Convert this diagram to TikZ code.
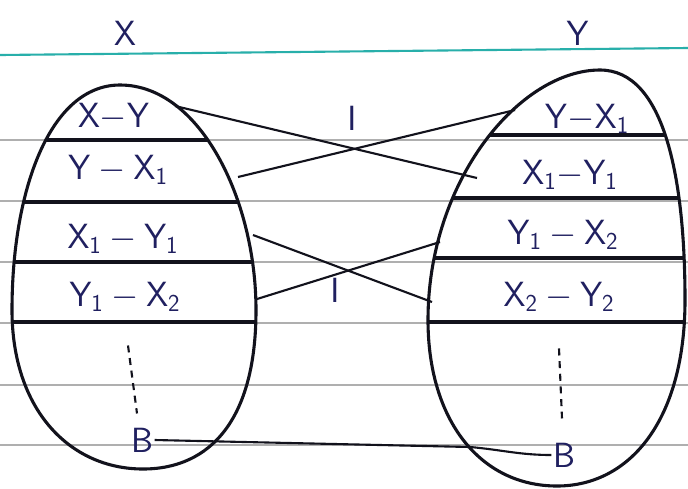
\documentclass[tikz,border=0pt]{standalone}
\definecolor{ink}{RGB}{32,32,96}
\definecolor{pen}{RGB}{18,18,28}
\definecolor{margin}{RGB}{40,175,170}
\definecolor{ruling}{RGB}{175,175,175}
\tikzset{term/.style={text=ink,inner sep=1pt,font=\fontsize{26}{30}\selectfont},text centered}
\tikzset{wire/.style={draw=pen,line width=1.5pt}}
\tikzset{egg/.style={draw=pen,line width=2.2pt}}

\begin{document}
\begin{tikzpicture}[x=0.025cm,y=-0.025cm]
  \useasboundingbox[fill=white] (0,0) rectangle (688,488);
  % ruled paper
  \foreach \y in {140,201,262,323,385,445} \draw[ruling,line width=0.9pt] (0,\y) -- (688,\y);
  \draw[margin,line width=1.5pt] (0,55) -- (688,48);
  \node [term,font=\fontsize{30}{34}\selectfont] (setX) at (125,33) {$\mathsf{X}$};
  \node [term,font=\fontsize{30}{34}\selectfont] (setY) at (578,33) {$\mathsf{Y}$};
  % dividers inside the sets
  \begin{scope}
    \clip (120,85) .. controls (200,85) and (256,200) .. (256,310) .. controls (256,420) and (210,469) .. (143,469) .. controls (70,469) and (12,410) .. (12,310) .. controls (12,190) and (50,85) .. (120,85) -- cycle;
    \foreach \y in {140,202,262,322} \draw[egg] (0,\y) -- (300,\y);
  \end{scope}
  \begin{scope}
    \clip (600,70) .. controls (665,70) and (685,180) .. (685,300) .. controls (685,420) and (630,486) .. (557,486) .. controls (480,486) and (428,420) .. (428,320) .. controls (428,180) and (520,70) .. (600,70) -- cycle;
    \foreach \y in {135,198,258,322} \draw[egg] (380,\y) -- (688,\y);
  \end{scope}
  \draw[egg] (120,85) .. controls (200,85) and (256,200) .. (256,310) .. controls (256,420) and (210,469) .. (143,469) .. controls (70,469) and (12,410) .. (12,310) .. controls (12,190) and (50,85) .. (120,85) -- cycle;
  \draw[egg] (600,70) .. controls (665,70) and (685,180) .. (685,300) .. controls (685,420) and (630,486) .. (557,486) .. controls (480,486) and (428,420) .. (428,320) .. controls (428,180) and (520,70) .. (600,70) -- cycle;
  % left set
  \node [term] (lXY) at (114,117) {$\mathsf{X{-}Y}$};
  \node [term] (lYX1) at (118,170) {$\mathsf{Y-X_1}$};
  \node [term] (lX1Y1) at (123,239) {$\mathsf{X_1-Y_1}$};
  \node [term] (lY1X2) at (125,297) {$\mathsf{Y_1-X_2}$};
  \node [term] (lB) at (142,440) {$\mathsf{B}$};
  % right set
  \node [term] (rYX1) at (587,119) {$\mathsf{Y{-}X_1}$};
  \node [term] (rX1Y1) at (570,175) {$\mathsf{X_1{-}Y_1}$};
  \node [term] (rY1X2) at (563,235) {$\mathsf{Y_1-X_2}$};
  \node [term] (rX2Y2) at (559,297) {$\mathsf{X_2-Y_2}$};
  \node [term] (rB) at (564,455) {$\mathsf{B}$};
  \draw[wire,dashed,dash pattern=on 5pt off 4pt] (lY1X2.south) ++(3,32) coordinate (ldots) -- ++(9,68);
  \draw[wire,dashed,dash pattern=on 5pt off 4pt] (rX2Y2.south) ++(0,35) coordinate (rdots) -- ++(3,70);
  % ends of the maps
  \coordinate (aXY) at (175,106);
  \coordinate (aYX1) at (238,177);
  \coordinate (aX1Y1) at (253,235);
  \coordinate (aY1X2) at (257,299);
  \coordinate (bYX1) at (515,110);
  \coordinate (bX1Y1) at (477,178);
  \coordinate (bY1X2) at (440,242);
  \coordinate (bX2Y2) at (432,302);
  \coordinate (bend) at (470,447);
  \draw[wire] (aXY) -- (bX1Y1);
  \draw[wire] (aYX1) -- (bYX1);
  \draw[wire] (aX1Y1) -- (bX2Y2);
  \draw[wire] (aY1X2) -- (bY1X2);
  \draw[wire] (lB.east) -- (bend) to[out=-5,in=180] (rB.west);
  \node [term] (iTop) at (352,118) {$\mathsf{I}$};
  \node [term] (iLow) at (335,290) {$\mathsf{I}$};
\end{tikzpicture}
\end{document}
